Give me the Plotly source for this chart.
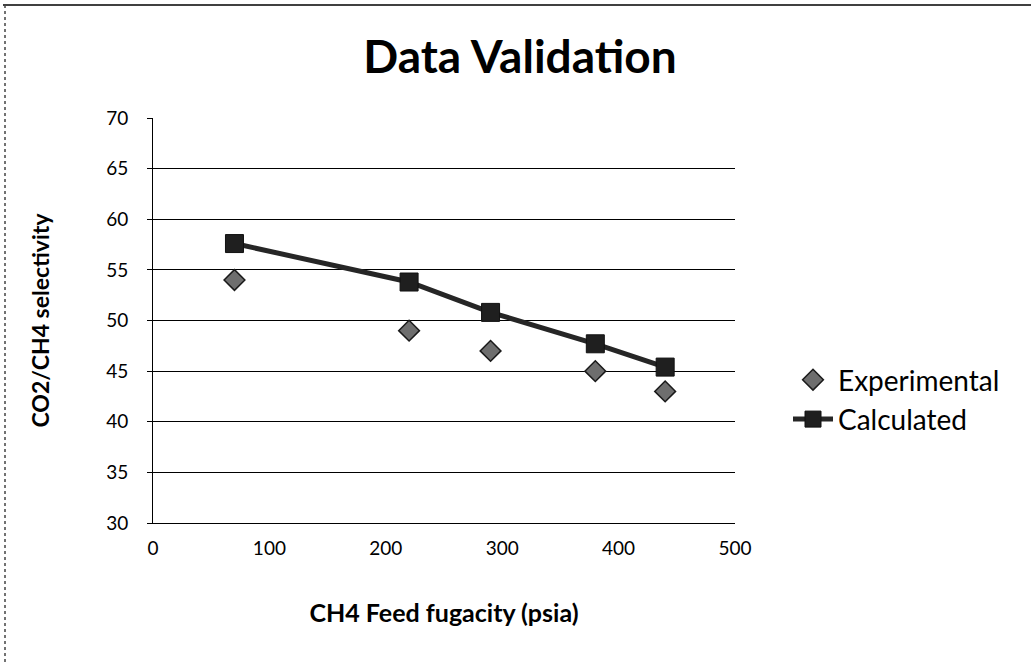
import plotly.graph_objects as go

fugacity = [70, 220, 290, 380, 440]
experimental = [54, 49, 47, 45, 43]
calculated = [57.6, 53.8, 50.8, 47.7, 45.4]

x_ticks = [0, 100, 200, 300, 400, 500]
y_ticks = [30, 35, 40, 45, 50, 55, 60, 65, 70]

W, H = 1031, 665
ML, MR, MT, MB = 153, 296, 118, 142
FONT = "Lato"

fig = go.Figure()
fig.add_trace(go.Scatter(
    x=fugacity, y=experimental, name="Experimental", mode="markers",
    legendgroup="a",
    marker=dict(symbol="diamond", size=16, color="#6e6e6e",
                line=dict(color="#1a1a1a", width=1.5)),
))
fig.add_trace(go.Scatter(
    x=fugacity, y=calculated, name="Calculated", mode="lines+markers",
    legendgroup="b",
    line=dict(color="#262626", width=5),
    marker=dict(symbol="square", size=18, color="#1f1f1f",
                line=dict(color="#111111", width=1)),
))

pw = W - ML - MR
ph = H - MT - MB

fig.update_layout(
    width=W, height=H,
    margin=dict(l=ML, r=MR, t=MT, b=MB, pad=0),
    paper_bgcolor="white", plot_bgcolor="white",
    font=dict(family=FONT, color="black", size=18),
    title=dict(text="<b>Data Validation</b>", x=520 / W, xanchor="center",
               xref="container",
               y=1 - 57 / H, yanchor="middle", yref="container",
               font=dict(family=FONT, size=46, color="black")),
    xaxis=dict(range=[0, 500], tickvals=x_ticks, showgrid=False,
               showline=True, linecolor="black", linewidth=1,
               ticks="", zeroline=False, ticklabelstandoff=8,
               tickfont=dict(family=FONT, size=19, color="black"),
               title=dict(text="<b>CH4 Feed fugacity (psia)</b>", standoff=46,
                          font=dict(family=FONT, size=25, color="black"))),
    yaxis=dict(range=[30, 70], tickvals=y_ticks, showgrid=True,
               gridcolor="black", gridwidth=1,
               showline=True, linecolor="black", linewidth=1,
               ticks="outside", ticklen=5, tickcolor="black",
               ticklabelstandoff=15, zeroline=False,
               tickfont=dict(family=FONT, size=19, color="black"),
               title=dict(text="<b>CO2/CH4 selectivity</b>", standoff=50,
                          font=dict(family=FONT, size=23, color="black"))),
    legend=dict(x=(788 - ML) / pw, xanchor="left",
                y=1 - (355 - MT) / ph, yanchor="top",
                bgcolor="rgba(0,0,0,0)", tracegroupgap=0,
                itemwidth=40,
                font=dict(family=FONT, size=28, color="black")),
    showlegend=True,
)

# outer chart frame (top and left edges visible in the scan)
fig.add_shape(type="line", xref="paper", yref="paper",
              x0=(3 - ML) / pw, x1=(W - ML) / pw,
              y0=1 + (MT - 5) / ph, y1=1 + (MT - 5) / ph,
              line=dict(color="black", width=1.5))
fig.add_shape(type="line", xref="paper", yref="paper",
              x0=(5 - ML) / pw, x1=(5 - ML) / pw,
              y0=1 + (MT - 5) / ph, y1=-MB / ph,
              line=dict(color="#444444", width=1.5, dash="dot"))

fig.write_html("out.html")
